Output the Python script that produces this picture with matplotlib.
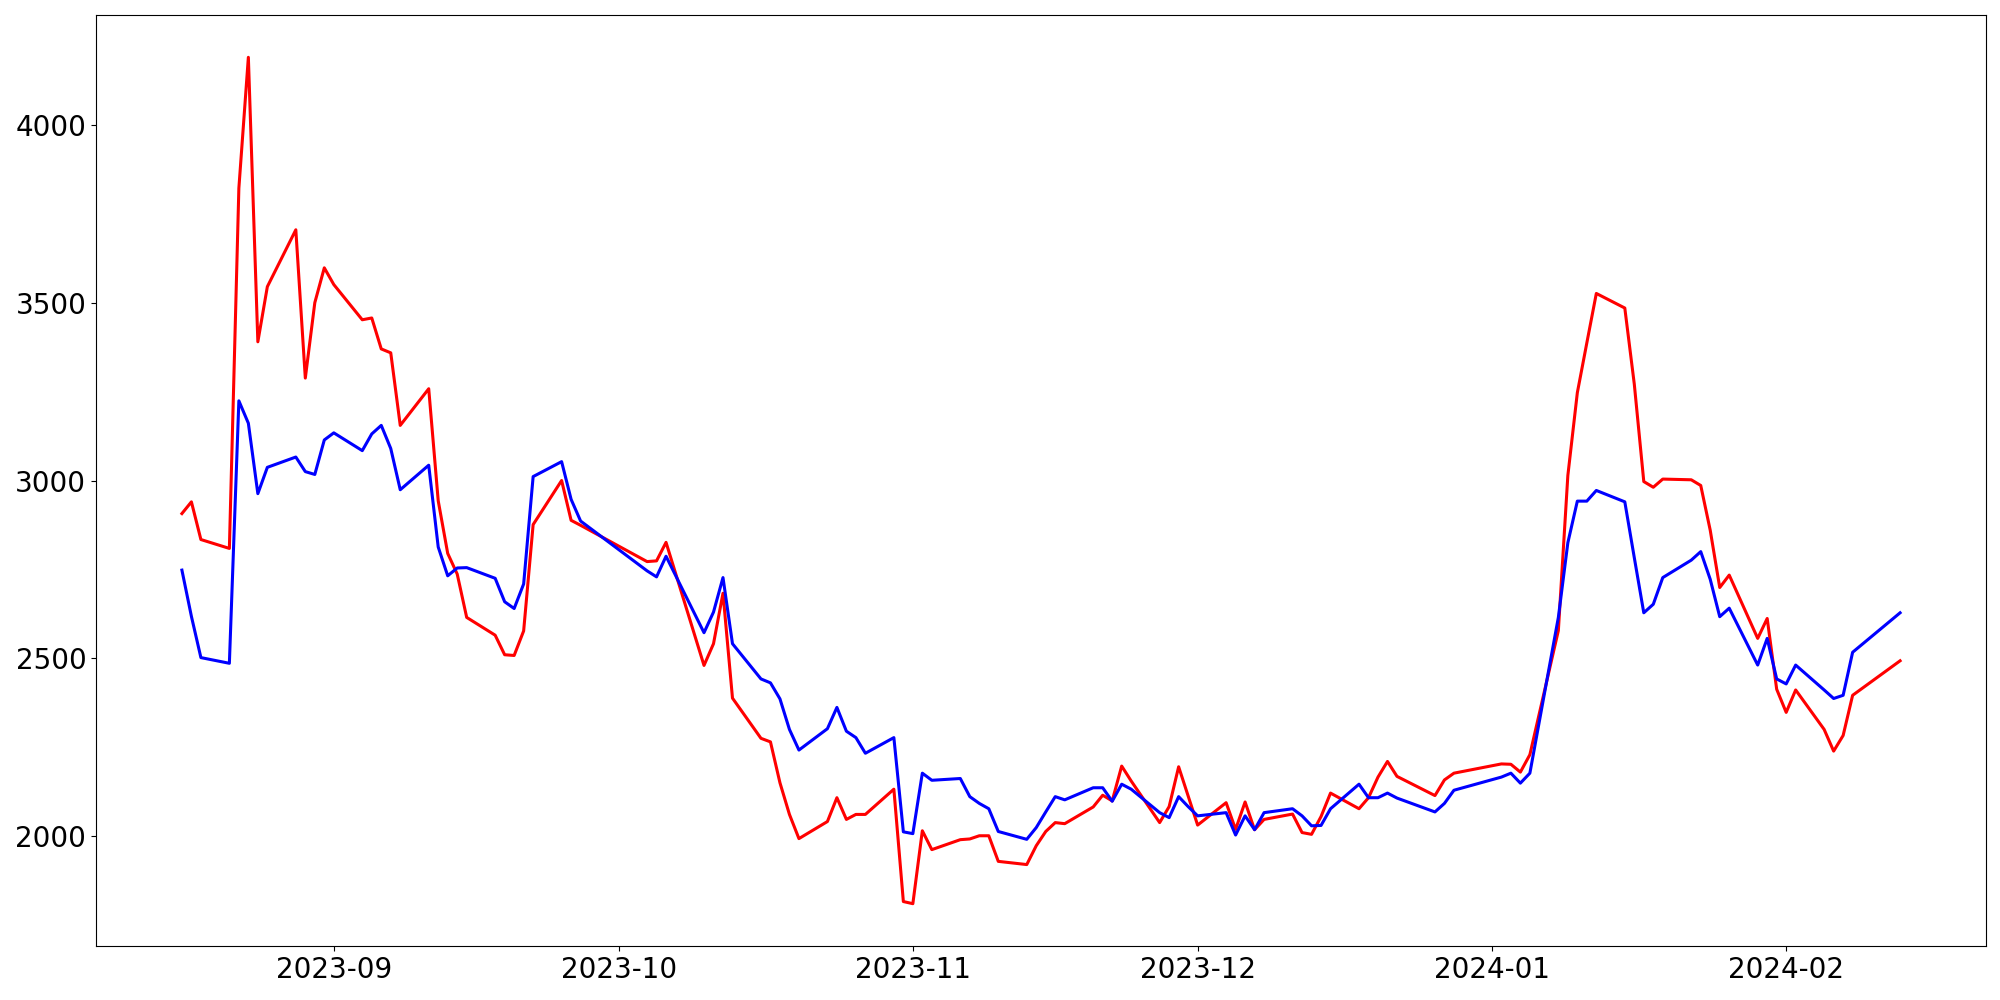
import pandas as pd
import matplotlib
matplotlib.use("Agg")
import matplotlib.pyplot as plt

# KRX trading days between 2023-08-16 and 2024-02-13 (weekdays minus market holidays)
start_date = "2023-08-16"
end_date = "2024-02-13"
market_holidays = [
    "2023-09-28", "2023-09-29", "2023-10-02", "2023-10-03", "2023-10-09",
    "2023-12-25", "2023-12-29", "2024-01-01", "2024-02-09", "2024-02-12",
]

# red series
red_values = [
    # Aug
    2907, 2940, 2834, 2809, 3822, 4190, 3390, 3545, 3705, 3288, 3500, 3598,
    # Sep
    3551, 3452, 3457, 3370, 3359, 3155, 3258, 2943, 2795, 2737, 2615, 2565,
    2510, 2508, 2577, 2876, 3000, 2888, 2874,
    # Oct
    2772, 2774, 2826, 2480, 2541, 2683, 2388, 2275, 2265, 2150, 2061, 1993,
    2041, 2108, 2047, 2061, 2061, 2132, 1816,
    # Nov
    1810, 2015, 1962, 1990, 1992, 2001, 2001, 1929, 1920, 1973, 2013, 2038,
    2035, 2082, 2115, 2099, 2197, 2155, 2038, 2083, 2195, 2113,
    # Dec
    2031, 2094, 2019, 2096, 2018, 2047, 2062, 2010, 2005, 2055, 2121, 2077,
    2108, 2166, 2210, 2168, 2114, 2158, 2177,
    # Jan
    2203, 2202, 2180, 2229, 2578, 3014, 3247, 3387, 3526, 3485, 3271, 2997,
    2981, 3004, 3002, 2986, 2860, 2699, 2734, 2556, 2612, 2413,
    # Feb
    2348, 2411, 2300, 2239, 2283, 2396, 2493,
]

# blue series
blue_values = [
    # Aug
    2748, 2618, 2502, 2486, 3224, 3161, 2963, 3037, 3066, 3025, 3017, 3114,
    # Sep
    3134, 3084, 3131, 3155, 3090, 2974, 3043, 2813, 2732, 2754, 2755, 2725,
    2659, 2640, 2709, 3011, 3053, 2947, 2886,
    # Oct
    2746, 2729, 2787, 2572, 2630, 2727, 2541, 2442, 2431, 2386, 2300, 2242,
    2302, 2362, 2295, 2277, 2233, 2277, 2012,
    # Nov
    2007, 2177, 2157, 2162, 2111, 2092, 2077, 2013, 1991, 2024, 2068, 2111,
    2102, 2136, 2136, 2098, 2146, 2132, 2066, 2052, 2111, 2083,
    # Dec
    2057, 2066, 2003, 2057, 2018, 2066, 2077, 2057, 2029, 2030, 2077, 2146,
    2108, 2108, 2121, 2107, 2068, 2092, 2129,
    # Jan
    2166, 2177, 2149, 2177, 2615, 2825, 2942, 2942, 2972, 2940, 2783, 2628,
    2652, 2727, 2776, 2800, 2722, 2617, 2641, 2481, 2556, 2442,
    # Feb
    2428, 2481, 2411, 2387, 2396, 2517, 2628,
]

dates = pd.bdate_range(start_date, end_date, freq="C", holidays=market_holidays)

fig, ax = plt.subplots(figsize=(20, 10), dpi=100)
ax.plot(dates, red_values, color="red", linewidth=2.2)
ax.plot(dates, blue_values, color="blue", linewidth=2.2)

ax.tick_params(axis="both", labelsize=20)

fig.subplots_adjust(left=0.048, right=0.993, top=0.985, bottom=0.054)
fig.savefig("out.png")
